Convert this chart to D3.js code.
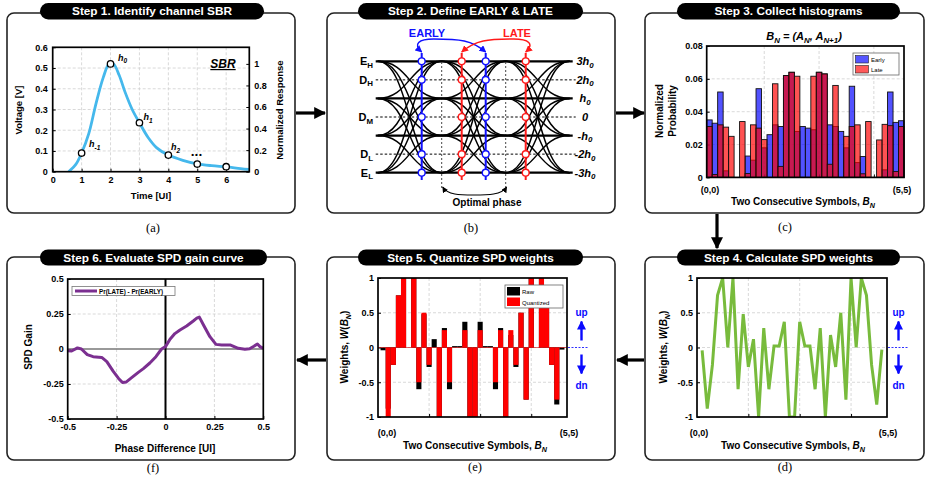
<!DOCTYPE html>
<html><head><meta charset="utf-8">
<script src="https://cdn.jsdelivr.net/npm/d3@7"></script>
<style>body{margin:0;background:#fff}svg{display:block}</style>
</head><body><svg id="c" width="927" height="487"></svg>
<script>
// ---------------- data ----------------
// (a) single-bit response
const sbrT = [0.55,0.8,1.0,1.25,1.5,1.75,1.95,2.1,2.3,2.5,2.75,3.0,3.3,3.6,4.0,4.5,5.0,5.5,6.0,6.5,6.8];
const sbrV = [0,0.035,0.09,0.185,0.33,0.455,0.52,0.52,0.465,0.385,0.3,0.236,0.165,0.115,0.08,0.055,0.038,0.029,0.023,0.015,0.011];
const cursorT = [1,2,3,4,5,6];
const cursorV = [0.09,0.52,0.236,0.08,0.037,0.024];
const sbrXTicks = [0,1,2,3,4,5,6];
const sbrYTicks = [0,0.1,0.2,0.3,0.4,0.5,0.6];
const sbrY2Ticks = [0,0.2,0.4,0.6,0.8,1];
// (b) eye diagram levels (units of h0)
const eyeLevels = [3,1,-1,-3];
const refLevels = [3,2,1,0,-1,-2,-3];
const refLabelsRight = ["3h","2h","h","0","-h","-2h","-3h"];
const sampleLevels = [3,2,0,-2,-3];
// (c) histograms, 36 symbol pairs (0,0)..(5,5)
const histEarly = [0.035,0.033,0.052,0.004,0,0,0,0.013,0.0105,0.054,0.018,0.026,0.032,0.031,0.062,0.064,0.028,0.031,0.030,0.029,0.064,0.063,0.032,0.031,0.028,0.018,0.0555,0.009,0.0127,0,0,0,0.0046,0.052,0.0335,0.0345];
const histLate  = [0.031,0.0018,0.032,0.0306,0.025,0,0.034,0.0024,0.032,0.030,0.023,0,0.057,0.0067,0.062,0.064,0.0616,0,0,0.0616,0.064,0.063,0.008,0.056,0,0.025,0.031,0.032,0.0022,0.034,0,0.0228,0.0323,0.0315,0.0036,0.031];
const histYTicks = [0,0.02,0.04,0.06,0.08];
// (d) raw SPD weights, (e) quantized weights
const weightsRaw = [-0.04,-0.88,-0.25,0.75,1,0,1,-0.6,0.48,-0.28,0.12,-1,0.28,-0.6,0.02,0.02,0.37,-1,-1,0.37,0.02,0.02,-0.6,0.28,-1,0.18,-0.28,0.5,-0.75,1,0,1,0.75,-0.25,-0.82,-0.03];
const weightsQuant = [0,-1,-0.25,0.75,1,0,1,-0.5,0.5,-0.25,0,-1,0.25,-0.5,0,0,0.25,-1,-1,0.25,0,0,-0.5,0.25,-1,0.25,-0.25,0.5,-0.75,1,0,1,0.75,-0.25,-0.75,0];
const weightYTicks = [-1,-0.5,0,0.5,1];
const symbolGridTicks = [10,20,30];
// (f) SPD gain curve
const phaseDiff = [-0.5,-0.48,-0.45,-0.43,-0.40,-0.37,-0.326,-0.30,-0.267,-0.24,-0.22,-0.20,-0.173,-0.139,-0.113,-0.08,-0.049,-0.02,0,0.023,0.048,0.074,0.108,0.142,0.16,0.173,0.197,0.227,0.258,0.287,0.33,0.372,0.406,0.43,0.452,0.47,0.483,0.5];
const spdGain   = [-0.012,-0.014,0.008,0,-0.04,-0.055,-0.06,-0.09,-0.16,-0.21,-0.24,-0.235,-0.205,-0.167,-0.14,-0.1,-0.055,0,0.017,0.07,0.11,0.136,0.164,0.2,0.22,0.228,0.164,0.088,0.033,0.029,0.029,0.005,-0.002,0.002,0.02,0.036,0.017,0.005];
const gainTicks = [-0.5,-0.25,0,0.25,0.5];

// ---------------- helpers ----------------
const FONT = "'Liberation Sans', Arial, sans-serif";
const svg = d3.select("#c").attr("font-family", FONT);
const defs = svg.append("defs");
function marker(id, color, w, h){
  defs.append("marker").attr("id",id).attr("viewBox","0 0 10 10").attr("refX",9).attr("refY",5)
    .attr("markerWidth",w).attr("markerHeight",h).attr("orient","auto-start-reverse").attr("markerUnits","userSpaceOnUse")
    .append("path").attr("d","M0,0L10,5L0,10z").attr("fill",color);
}
marker("ahBlack","#000",12,12);
marker("ahBlue","#1010ff",7,7);
marker("ahRed","#ff1a1a",7,7);
marker("ahSmall","#000",6,6);
marker("ahUp","#0a0aff",9,9);

function rich(t, parts){
  let shift = 0;
  parts.forEach(p=>{
    const target = p.sub ? 2.5 : 0;
    const s = t.append("tspan").text(p.t);
    if (target-shift !== 0) s.attr("dy", target-shift);
    shift = target;
    if (p.sub) s.attr("font-size","0.72em");
    if (p.it) s.attr("font-style","italic");
  });
  return t;
}
function txt(x,y,str,opt={}){
  const t = svg.append("text").attr("x",x).attr("y",y)
    .attr("font-size",opt.fs||9).attr("font-weight",opt.fw||"bold")
    .attr("text-anchor",opt.anchor||"middle").attr("fill",opt.fill||"#000");
  if (opt.family) t.attr("font-family",opt.family);
  if (opt.it) t.attr("font-style","italic");
  if (opt.rot) t.attr("transform",`rotate(${opt.rot},${x},${y})`);
  if (Array.isArray(str)) rich(t,str); else t.text(str);
  return t;
}
function panel(x0,y0,x1,y1,px0,px1,py0,py1,title){
  svg.append("rect").attr("x",x0).attr("y",y0).attr("width",x1-x0).attr("height",y1-y0)
    .attr("rx",7).attr("fill","#fff").attr("stroke","#222").attr("stroke-width",1.6);
  svg.append("rect").attr("x",px0).attr("y",py0).attr("width",px1-px0).attr("height",py1-py0)
    .attr("rx",(py1-py0)/2).attr("fill","#000");
  txt((px0+px1)/2,(py0+py1)/2+4.2,title,{fs:11.8,fill:"#fff"});
}
function grid(xs,ys,x,y,X0,X1,Y0,Y1){
  const g = svg.append("g").attr("stroke","#cfcfcf").attr("stroke-width",0.8).attr("stroke-dasharray","3,2");
  xs.forEach(v=>g.append("line").attr("x1",x(v)).attr("x2",x(v)).attr("y1",Y0).attr("y2",Y1));
  ys.forEach(v=>g.append("line").attr("y1",y(v)).attr("y2",y(v)).attr("x1",X0).attr("x2",X1));
}
function styleAxis(g){
  g.select(".domain").remove();
  g.selectAll("text").attr("font-size",9).attr("font-weight","bold").attr("fill","#000").attr("font-family",FONT);
  g.selectAll("line").attr("stroke","#000");
}
function frame(X0,Y0,X1,Y1){
  svg.append("rect").attr("x",X0).attr("y",Y0).attr("width",X1-X0).attr("height",Y1-Y0)
    .attr("fill","none").attr("stroke","#000").attr("stroke-width",1.7);
}
function clip(id,X0,Y0,X1,Y1){
  defs.append("clipPath").attr("id",id).append("rect").attr("x",X0).attr("y",Y0).attr("width",X1-X0).attr("height",Y1-Y0);
}
const fmt = d => String(d);

// ---------------- panels ----------------
panel(7,13,295,213,40,264,3,19.5,"Step 1. Identify channel SBR");
panel(327,13,615,213,358,583,3,19.5,"Step 2. Define EARLY & LATE");
panel(645,13,924,213,677,900,3,19.5,"Step 3. Collect histograms");
panel(7,257,295,460,40,267,249.5,265.5,"Step 6. Evaluate SPD gain curve");
panel(327,257,615,460,358,583,249.5,265.5,"Step 5. Quantize SPD weights");
panel(645,257,924,460,677,900,249.5,265.5,"Step 4. Calculate SPD weights");

// connecting arrows
function arrow(x1,y1,x2,y2){
  svg.append("line").attr("x1",x1).attr("y1",y1).attr("x2",x2).attr("y2",y2)
    .attr("stroke","#000").attr("stroke-width",3.2).attr("marker-end","url(#ahBlack)");
}
arrow(296,113,325,113);
arrow(616,113,644,113);
arrow(717,214,717,248);
arrow(644,360,617,360);
arrow(326,360,297,360);

// sub-labels
const serif = "'Liberation Serif','Times New Roman',serif";
txt(153,232,"(a)",{fs:12.5,fw:"normal",family:serif});
txt(471,232,"(b)",{fs:12.5,fw:"normal",family:serif});
txt(785,231,"(c)",{fs:12.5,fw:"normal",family:serif});
txt(153,472,"(f)",{fs:12.5,fw:"normal",family:serif});
txt(475,471,"(e)",{fs:12.5,fw:"normal",family:serif});
txt(785,471,"(d)",{fs:12.5,fw:"normal",family:serif});

// ---------------- (a) SBR ----------------
{
  const X0=52.7,X1=249.3,Y0=47.3,Y1=171.7;
  const x = d3.scaleLinear().domain([0,6.8]).range([X0,X1]);
  const y = d3.scaleLinear().domain([0,0.6]).range([Y1,Y0]);
  const y2 = d3.scaleLinear().domain([0,0.6/0.52]).range([Y1,Y0]);
  grid([1,2,3,4,5,6],[0.1,0.2,0.3,0.4,0.5],x,y,X0,X1,Y0,Y1);
  styleAxis(svg.append("g").attr("transform",`translate(0,${Y1})`)
    .call(d3.axisBottom(x).tickValues(sbrXTicks).tickFormat(fmt).tickSizeInner(-3).tickSizeOuter(0).tickPadding(5)));
  styleAxis(svg.append("g").attr("transform",`translate(${X0},0)`)
    .call(d3.axisLeft(y).tickValues(sbrYTicks).tickFormat(fmt).tickSizeInner(-3).tickSizeOuter(0).tickPadding(5)));
  styleAxis(svg.append("g").attr("transform",`translate(${X1},0)`)
    .call(d3.axisRight(y2).tickValues(sbrY2Ticks).tickFormat(fmt).tickSizeInner(-3).tickSizeOuter(0).tickPadding(5)));
  clip("clipA",X0,Y0,X1,Y1);
  svg.append("path").datum(sbrT.map((t,i)=>[t,sbrV[i]])).attr("clip-path","url(#clipA)")
    .attr("d",d3.line().x(d=>x(d[0])).y(d=>y(d[1])).curve(d3.curveCatmullRom.alpha(0.5)))
    .attr("fill","none").attr("stroke","#45b8ec").attr("stroke-width",2.8);
  frame(X0,Y0,X1,Y1);
  svg.append("g").selectAll("circle").data(cursorT).join("circle")
    .attr("cx",d=>x(d)).attr("cy",(d,i)=>y(cursorV[i])).attr("r",3.2)
    .attr("fill","#fff").attr("stroke","#000").attr("stroke-width",1.3);
  const hl = [[-1,89,147],[0,118,60.5],[1,143.5,120],[2,171,150]];
  hl.forEach(([k,xx,yy])=>{
    const t = svg.append("text").attr("x",xx).attr("y",yy).attr("font-size",9).attr("font-weight","bold").attr("font-style","italic");
    rich(t,[{t:"h"},{t:String(k),sub:true}]);
  });
  txt(197,157,"•••",{fs:8,anchor:"middle"}).attr("letter-spacing",1);
  txt(223,68,"SBR",{fs:12,it:true}).attr("text-decoration","underline");
  txt(151,199,"Time [UI]",{fs:9.5});
  txt(22,110,"Voltage [V]",{fs:9.5,rot:-90});
  txt(283,110,"Normalized Response",{fs:9.5,rot:-90});
}

// ---------------- (b) eye diagram ----------------
{
  const x = d3.scaleLinear().domain([0,3]).range([377.7,569.7]);
  const y = d3.scaleLinear().domain([-3,3]).range([172.7,61.3]);
  refLevels.forEach(l=>{
    const solid = eyeLevels.includes(l);
    svg.append("line").attr("x1",x(0)-2).attr("x2",solid?x(3)+3:x(3)+6).attr("y1",y(l)).attr("y2",y(l))
      .attr("stroke","#000").attr("stroke-width",solid?2.2:1).attr("stroke-dasharray",solid?null:"2.5,2");
  });
  [1,2].forEach(u=>svg.append("line").attr("x1",x(u)).attr("x2",x(u)).attr("y1",62).attr("y2",188)
    .attr("stroke","#333").attr("stroke-width",0.9).attr("stroke-dasharray","2,2"));
  const link = d3.linkHorizontal().x(d=>x(d[0])).y(d=>y(d[1]));
  const tr = [];
  [0,1,2].forEach(k=>eyeLevels.forEach(a=>eyeLevels.forEach(b=>{ if(a!==b) tr.push({source:[k,a],target:[k+1,b]}); })));
  svg.append("g").selectAll("path").data(tr).join("path").attr("d",link)
    .attr("fill","none").attr("stroke","#000").attr("stroke-width",1.5);
  const leftLab = [[3,"E","H"],[2,"D","H"],[0,"D","M"],[-2,"D","L"],[-3,"E","L"]];
  leftLab.forEach(([l,a,b])=>txt(373,y(l)+4,[{t:a},{t:b,sub:true}],{fs:11,anchor:"end"}));
  refLevels.forEach((l,i)=>{
    const s = refLabelsRight[i];
    const parts = s.endsWith("h") ? [{t:s},{t:"0",sub:true}] : [{t:s}];
    txt(585,y(l)+4,parts,{fs:11,it:true});
  });
  const samples = [[0.6875,"#1010ff"],[1.3125,"#ff1a1a"],[1.6875,"#1010ff"],[2.3125,"#ff1a1a"]];
  samples.forEach(([u,c])=>{
    svg.append("line").attr("x1",x(u)).attr("x2",x(u)).attr("y1",53).attr("y2",180).attr("stroke",c).attr("stroke-width",2);
    sampleLevels.forEach(l=>svg.append("circle").attr("cx",x(u)).attr("cy",y(l)).attr("r",3.4)
      .attr("fill","#fff").attr("stroke",c).attr("stroke-width",1.4));
  });
  // arcs between the two EARLY samples and the two LATE samples
  const bx1=x(0.6875), bx2=x(1.6875), rx1=x(1.3125), rx2=x(2.3125);
  svg.append("path").attr("d",`M${bx1},52 C${bx1-9},44 ${bx1-3},39 ${bx1+12},39 C${bx1+38},39 ${bx2-14},40 ${bx2},52`)
    .attr("fill","none").attr("stroke","#1010ff").attr("stroke-width",1.5)
    .attr("marker-start","url(#ahBlue)").attr("marker-end","url(#ahBlue)");
  svg.append("path").attr("d",`M${rx1},52 C${rx1+14},40 ${rx2-38},39 ${rx2-12},39 C${rx2+3},39 ${rx2+9},44 ${rx2},52`)
    .attr("fill","none").attr("stroke","#ff1a1a").attr("stroke-width",1.5)
    .attr("marker-start","url(#ahRed)").attr("marker-end","url(#ahRed)");
  txt(427,36.5,"EARLY",{fs:11,fill:"#1010ff"});
  txt(517,36.5,"LATE",{fs:11,fill:"#ff1a1a"});
  svg.append("path").attr("d",`M${x(1)+1},187 C${x(1)+6},195 ${x(1)+18},195 ${x(1.5)},195 C${x(2)-18},195 ${x(2)-4},195 ${x(2)+1},187`)
    .attr("fill","none").attr("stroke","#000").attr("stroke-width",1.1)
    .attr("marker-start","url(#ahSmall)").attr("marker-end","url(#ahSmall)");
  txt(487,206,"Optimal phase",{fs:10});
}

// ---------------- (c) histograms ----------------
{
  const X0=706.7,X1=904,Y0=46,Y1=177.4;
  const x = d3.scaleLinear().domain([-0.5,35.5]).range([X0,X1]);
  const y = d3.scaleLinear().domain([0,0.08]).range([Y1,Y0]);
  grid(symbolGridTicks,[0.02,0.04,0.06],x,y,X0,X1,Y0,Y1);
  styleAxis(svg.append("g").attr("transform",`translate(${X0},0)`)
    .call(d3.axisLeft(y).tickValues(histYTicks).tickFormat(fmt).tickSizeInner(-3).tickSizeOuter(0).tickPadding(4)));
  styleAxis(svg.append("g").attr("transform",`translate(0,${Y1})`)
    .call(d3.axisBottom(x).tickValues(symbolGridTicks).tickFormat("").tickSizeInner(-3).tickSizeOuter(0)));
  const bw = x(0.5)-x(-0.5);
  const drawBars = (vals,color)=>svg.append("g").selectAll("rect").data(vals).join("rect")
    .attr("x",(d,i)=>x(i)-bw/2).attr("width",bw).attr("y",d=>y(d)).attr("height",d=>Y1-y(d))
    .attr("fill",color).attr("fill-opacity",0.68).attr("stroke","#111").attr("stroke-width",0.9);
  drawBars(histEarly,"#0000ff");
  drawBars(histLate,"#ff0000");
  frame(X0,Y0,X1,Y1);
  svg.append("rect").attr("x",853).attr("y",53).attr("width",46).attr("height",22).attr("fill","#fff").attr("stroke","#666").attr("stroke-width",0.8);
  svg.append("rect").attr("x",855.5).attr("y",55.5).attr("width",13).attr("height",7.5).attr("fill","#5555ff").attr("stroke","#222").attr("stroke-width",0.6);
  svg.append("rect").attr("x",855.5).attr("y",65.5).attr("width",13).attr("height",7.5).attr("fill","#ff5959").attr("stroke","#222").attr("stroke-width",0.6);
  txt(871,62,"Early",{fs:6,fw:"normal",anchor:"start"});
  txt(871,72,"Late",{fs:6,fw:"normal",anchor:"start"});
  txt(710,193,"(0,0)",{fs:9});
  txt(902,193,"(5,5)",{fs:9});
  txt(803,205,[{t:"Two Consecutive Symbols, "},{t:"B",it:true},{t:"N",sub:true,it:true}],{fs:10});
  txt(804,40,[{t:"B"},{t:"N",sub:true},{t:" = (A"},{t:"N",sub:true},{t:", A"},{t:"N+1",sub:true},{t:")"}],{fs:11,it:true});
  txt(663,111,"Normalized",{fs:10,rot:-90});
  txt(676,111,"Probability",{fs:10,rot:-90});
}

// up / dn indicators
function updn(cx,X1,yz){
  svg.append("line").attr("x1",X1+1).attr("x2",X1+22).attr("y1",yz).attr("y2",yz).attr("stroke","#3030ff").attr("stroke-width",1.2).attr("stroke-dasharray","2,1.5");
  svg.append("line").attr("x1",cx).attr("x2",cx).attr("y1",yz-7).attr("y2",yz-26).attr("stroke","#0a0aff").attr("stroke-width",2.4).attr("marker-end","url(#ahUp)");
  svg.append("line").attr("x1",cx).attr("x2",cx).attr("y1",yz+7).attr("y2",yz+26).attr("stroke","#0a0aff").attr("stroke-width",2.4).attr("marker-end","url(#ahUp)");
  txt(cx,yz-32,"up",{fs:10,fill:"#0a0aff"});
  txt(cx,yz+41,"dn",{fs:10,fill:"#0a0aff"});
}
function weightAxes(X0,X1,Y0,Y1){
  const x = d3.scaleLinear().domain([0,37]).range([X0,X1]);
  const y = d3.scaleLinear().domain([-1,1]).range([Y1,Y0]);
  grid(symbolGridTicks,[-0.5,0,0.5],x,y,X0,X1,Y0,Y1);
  styleAxis(svg.append("g").attr("transform",`translate(${X0},0)`)
    .call(d3.axisLeft(y).tickValues(weightYTicks).tickFormat(fmt).tickSizeInner(-3).tickSizeOuter(0).tickPadding(4)));
  styleAxis(svg.append("g").attr("transform",`translate(0,${Y1})`)
    .call(d3.axisBottom(x).tickValues(symbolGridTicks).tickFormat("").tickSizeInner(-3).tickSizeOuter(0)));
  return {x,y};
}
const wLabel = [{t:"Weights, "},{t:"W",it:true},{t:"("},{t:"B",it:true},{t:"N",sub:true,it:true},{t:")"}];
const xLabelSym = [{t:"Two Consecutive Symbols, "},{t:"B",it:true},{t:"N",sub:true,it:true}];

// ---------------- (d) raw weights ----------------
{
  const X0=697,X1=887,Y0=278,Y1=417;
  const {x,y} = weightAxes(X0,X1,Y0,Y1);
  clip("clipD",X0,Y0,X1,Y1);
  svg.append("path").datum(weightsRaw).attr("clip-path","url(#clipD)")
    .attr("d",d3.line().x((d,i)=>x(i+1)).y(d=>y(d)))
    .attr("fill","none").attr("stroke","#78bb3c").attr("stroke-width",3).attr("stroke-linejoin","miter");
  frame(X0,Y0,X1,Y1);
  updn(898.5,X1,y(0));
  txt(699,436,"(0,0)",{fs:9});
  txt(888,436,"(5,5)",{fs:9});
  txt(793,449,xLabelSym,{fs:10});
  txt(667,347,wLabel,{fs:10,rot:-90});
}

// ---------------- (e) quantized weights ----------------
{
  const X0=378,X1=567,Y0=278,Y1=417;
  const {x,y} = weightAxes(X0,X1,Y0,Y1);
  const bw = x(1)-x(0);
  svg.append("g").selectAll("rect").data(weightsRaw).join("rect")
    .attr("x",(d,i)=>x(i+1)-bw/2).attr("width",bw)
    .attr("y",d=>y(Math.max(0,d))).attr("height",d=>Math.abs(y(d)-y(0))).attr("fill","#000");
  svg.append("g").selectAll("rect").data(weightsQuant).join("rect")
    .attr("x",(d,i)=>x(i+1)-bw/2).attr("width",bw)
    .attr("y",d=>y(Math.max(0,d))).attr("height",d=>Math.abs(y(d)-y(0))).attr("fill","#ff0000");
  svg.append("line").attr("x1",X0).attr("x2",X1).attr("y1",y(0)).attr("y2",y(0)).attr("stroke","#c00").attr("stroke-width",0.6);
  frame(X0,Y0,X1,Y1);
  svg.append("rect").attr("x",505).attr("y",285).attr("width",58).attr("height",23).attr("fill","#fff").attr("stroke","#666").attr("stroke-width",0.8);
  svg.append("rect").attr("x",507).attr("y",287).attr("width",13).attr("height",8.5).attr("fill","#000");
  svg.append("rect").attr("x",507).attr("y",297.5).attr("width",13).attr("height",8.5).attr("fill","#ff0000");
  txt(522,294,"Raw",{fs:6,fw:"normal",anchor:"start"});
  txt(522,305,"Quantized",{fs:6,fw:"normal",anchor:"start"});
  updn(581.5,X1,y(0));
  txt(387,436,"(0,0)",{fs:9});
  txt(569,436,"(5,5)",{fs:9});
  txt(475,449,xLabelSym,{fs:10});
  txt(348,347,wLabel,{fs:10,rot:-90});
}

// ---------------- (f) SPD gain ----------------
{
  const X0=67.7,X1=263.3,Y0=279,Y1=419;
  const x = d3.scaleLinear().domain([-0.5,0.5]).range([X0,X1]);
  const y = d3.scaleLinear().domain([-0.5,0.5]).range([Y1,Y0]);
  grid([-0.25,0.25],[-0.25,0.25],x,y,X0,X1,Y0,Y1);
  styleAxis(svg.append("g").attr("transform",`translate(0,${Y1})`)
    .call(d3.axisBottom(x).tickValues(gainTicks).tickFormat(fmt).tickSizeInner(-3).tickSizeOuter(0).tickPadding(5)));
  styleAxis(svg.append("g").attr("transform",`translate(${X0},0)`)
    .call(d3.axisLeft(y).tickValues(gainTicks).tickFormat(fmt).tickSizeInner(-3).tickSizeOuter(0).tickPadding(4)));
  svg.append("line").attr("x1",X0).attr("x2",X1).attr("y1",y(0)).attr("y2",y(0)).attr("stroke","#777").attr("stroke-width",1.4);
  svg.append("line").attr("x1",x(0)).attr("x2",x(0)).attr("y1",Y0).attr("y2",Y1).attr("stroke","#000").attr("stroke-width",2);
  clip("clipF",X0,Y0,X1,Y1);
  svg.append("path").datum(phaseDiff.map((p,i)=>[p,spdGain[i]])).attr("clip-path","url(#clipF)")
    .attr("d",d3.line().x(d=>x(d[0])).y(d=>y(d[1])))
    .attr("fill","none").attr("stroke","#7b2f90").attr("stroke-width",3).attr("stroke-linejoin","round");
  frame(X0,Y0,X1,Y1);
  svg.append("rect").attr("x",72).attr("y",286.5).attr("width",103).attr("height",9).attr("fill","#fff").attr("stroke","#777").attr("stroke-width",0.8);
  svg.append("line").attr("x1",75).attr("x2",97).attr("y1",291).attr("y2",291).attr("stroke","#7b2f90").attr("stroke-width",3);
  txt(99,293.5,"Pr(LATE) - Pr(EARLY)",{fs:6.3,anchor:"start"});
  txt(165,452,"Phase Difference [UI]",{fs:10});
  txt(32,347,"SPD Gain",{fs:10,rot:-90});
}
</script></body></html>
